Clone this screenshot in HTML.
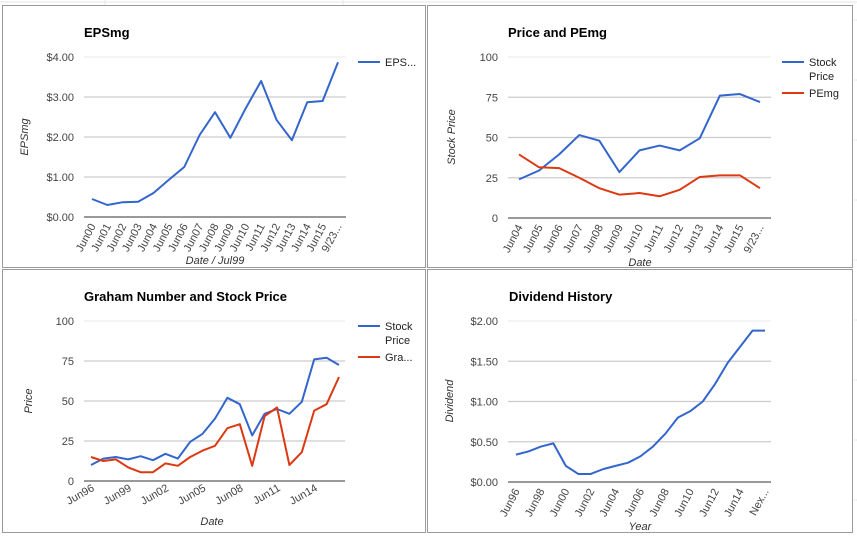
<!DOCTYPE html>
<html><head><meta charset="utf-8"><style>
body{margin:0;background:#fff;width:857px;height:536px;overflow:hidden;font-family:"Liberation Sans",Arial,sans-serif}
svg text{font-family:"Liberation Sans",Arial,sans-serif}
</style></head><body>
<svg id="s" width="857" height="536">
<g stroke="#e4e4e4" stroke-width="1">
<line x1="0" y1="2" x2="857" y2="2"/><line x1="105" y1="0" x2="105" y2="5"/><line x1="343" y1="0" x2="343" y2="5"/>
<line x1="854" y1="20" x2="857" y2="20"/><line x1="854" y1="80" x2="857" y2="80"/><line x1="854" y1="140" x2="857" y2="140"/><line x1="854" y1="200" x2="857" y2="200"/><line x1="854" y1="260" x2="857" y2="260"/><line x1="854" y1="320" x2="857" y2="320"/><line x1="854" y1="380" x2="857" y2="380"/><line x1="854" y1="440" x2="857" y2="440"/><line x1="854" y1="500" x2="857" y2="500"/>
</g>
</svg>
<script>
const eps_cats=["Jun00","Jun01","Jun02","Jun03","Jun04","Jun05","Jun06","Jun07","Jun08","Jun09","Jun10","Jun11","Jun12","Jun13","Jun14","Jun15","9/23..."];
const eps_vals=[0.45,0.30,0.37,0.38,0.60,0.93,1.25,2.05,2.62,1.98,2.72,3.40,2.43,1.92,2.87,2.90,3.87];
const eps_ticks=["$0.00","$1.00","$2.00","$3.00","$4.00"];
const pe_cats=["Jun04","Jun05","Jun06","Jun07","Jun08","Jun09","Jun10","Jun11","Jun12","Jun13","Jun14","Jun15","9/23..."];
const pe_price=[24,29.5,39.5,51.5,48,28.5,42,45,42,49.5,76,77,72];
const pe_pemg=[39.5,31.5,31,25,18.5,14.5,15.5,13.5,17.5,25.5,26.5,26.5,18.5];
const num_ticks=["0","25","50","75","100"];
const gr_cats=["Jun96","","","Jun99","","","Jun02","","","Jun05","","","Jun08","","","Jun11","","","Jun14","",""];
const gr_price=[10,14,15,13.5,15.5,13,17,14,24.5,29.5,39,52,48,28.5,42,45,42,49.5,76,77,72.5];
const gr_graham=[15,12.5,13.5,8.5,5.5,5.5,11,9.5,15,19,22,33,35.5,9.5,40.5,46,10,18,44,48,65];
const dv_cats=["Jun96","","Jun98","","Jun00","","Jun02","","Jun04","","Jun06","","Jun08","","Jun10","","Jun12","","Jun14","","Nex..."];
const dv_vals=[0.34,0.38,0.44,0.48,0.20,0.10,0.10,0.16,0.20,0.24,0.32,0.44,0.60,0.80,0.88,1.00,1.22,1.48,1.68,1.88,1.88];
const dv_ticks=["$0.00","$0.50","$1.00","$1.50","$2.00"];

const NS="http://www.w3.org/2000/svg";
const svg=document.getElementById('s');
function mk(tag,attrs,parent,txt){const e=document.createElementNS(NS,tag);for(const k in attrs)e.setAttribute(k,attrs[k]);if(txt!==undefined)e.textContent=txt;(parent||svg).appendChild(e);return e;}

function chart(o){
  const g=mk('g',{});
  
  
  const p=mk('rect',{x:o.px,y:o.py,width:o.pw,height:o.ph,fill:'#fff',stroke:'#9a9a9a','stroke-width':1},g);
  
  
  const t=mk('text',{x:o.tx,y:o.ty,'font-size':13,'font-weight':'bold',fill:'#000'},g,o.title);
  
  
  const n=o.series[0].vals.length;
  const xs=i=>o.x0+(o.x1-o.x0)*i/(n-1);
  const ys=v=>o.yb+(o.yt-o.yb)*v/o.ymax;
  o.ticks.forEach((lab,i)=>{
    const v=o.ymax*i/(o.ticks.length-1);const y=ys(v);
    const l=mk('line',{x1:o.gx0,x2:o.gx1,y1:y,y2:y,stroke:i==0?'#333':(i==o.ticks.length-1?'#eee':'#ccc'),'stroke-width':i==0?1:1.2},g);
    
    
    const tt=mk('text',{x:o.gx0-10,y:y+4,'text-anchor':'end','font-size':11,fill:'#444'},g,lab);
    
    
  });
  o.cats.forEach((c,i)=>{
    if(!c)return;
    const x=xs(i)+4,y=o.yb+9;
    const tt=mk('text',{x:x,y:y,'text-anchor':'end','font-size':11,fill:'#444',transform:`rotate(${o.rot} ${x} ${y})`},g,c);
    
    
  });
  o.series.forEach(s=>{
    const pl=mk('polyline',{points:s.vals.map((v,i)=>xs(i)+','+ys(v)).join(' '),fill:'none',stroke:s.color,'stroke-width':2,'stroke-linejoin':'round'},g);
    
    
  });
  const xt=mk('text',{x:o.xtx,y:o.xty,'text-anchor':'middle','font-size':11,'font-style':'italic',fill:'#333'},g,o.xtitle);
  
  
  const yt=mk('text',{x:o.ytx,y:o.yty,'text-anchor':'middle','font-size':11,'font-style':'italic',fill:'#333',transform:`rotate(-90 ${o.ytx} ${o.yty})`},g,o.ytitle);
  
  
  let ly=o.ly;
  o.series.forEach(s=>{
    const lg=mk('g',{},g);
    
    
    mk('line',{x1:o.lx,x2:o.lx+22,y1:ly,y2:ly,stroke:s.color,'stroke-width':2},lg);
    s.label.forEach((ln,k)=>mk('text',{x:o.lx+27,y:ly+4+k*14,'font-size':11,fill:'#222'},lg,ln));
    ly+=s.label.length*14+3;
  });
}
const B='#3366cc',R='#dc3912';
chart({name:'epsmg-chart',px:2.5,py:5.5,pw:423,ph:262,tx:84,ty:37,title:'EPSmg',x0:92,x1:338,yb:217,yt:57,ymax:4,gx0:84,gx1:346,ticks:eps_ticks,cats:eps_cats,rot:-62,
  series:[{key:'eps',vals:eps_vals,color:B,label:['EPS...']}],xtitle:'Date / Jul99',xtx:215,xty:264,ytitle:'EPSmg',ytx:28,yty:137,lx:358,ly:62});
chart({name:'price-pemg-chart',px:427.5,py:5.5,pw:425,ph:262,tx:508,ty:37,title:'Price and PEmg',x0:519,x1:760,yb:218,yt:57,ymax:100,gx0:508,gx1:771,ticks:num_ticks,cats:pe_cats,rot:-62,
  series:[{key:'stock-price',vals:pe_price,color:B,label:['Stock','Price']},{key:'pemg',vals:pe_pemg,color:R,label:['PEmg']}],xtitle:'Date',xtx:640,xty:266,ytitle:'Stock Price',ytx:455,yty:137,lx:782,ly:62});
chart({name:'graham-chart',px:2.5,py:269.5,pw:423,ph:263,tx:84,ty:301,title:'Graham Number and Stock Price',x0:91,x1:339,yb:481,yt:321,ymax:100,gx0:84,gx1:345,ticks:num_ticks,cats:gr_cats,rot:-30,
  series:[{key:'stock-price',vals:gr_price,color:B,label:['Stock','Price']},{key:'graham',vals:gr_graham,color:R,label:['Gra...']}],xtitle:'Date',xtx:212,xty:525,ytitle:'Price',ytx:32,yty:401,lx:358,ly:326});
chart({name:'dividend-chart',px:427.5,py:269.5,pw:425,ph:263,tx:509,ty:301,title:'Dividend History',x0:516,x1:765,yb:482,yt:321,ymax:2,gx0:508,gx1:771,ticks:dv_ticks,cats:dv_cats,rot:-62,
  series:[{key:'dividend',vals:dv_vals,color:B,label:[]}],xtitle:'Year',xtx:640,xty:530,ytitle:'Dividend',ytx:453,yty:401,lx:-100,ly:0});
</script>
</body></html>
